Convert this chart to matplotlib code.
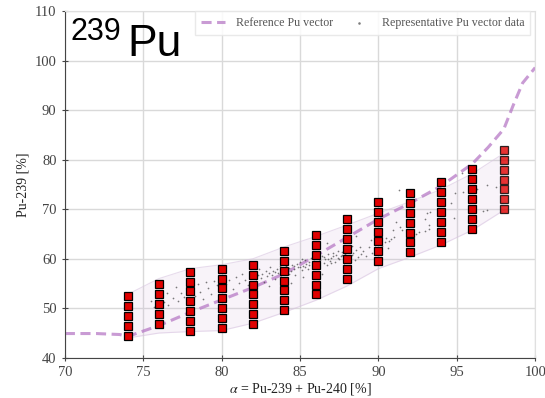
import matplotlib
matplotlib.use("Agg")
from matplotlib import pyplot as plt

plt.rcParams['font.family'] = 'Liberation Serif'
plt.rcParams['mathtext.fontset'] = 'stix'

# Reference Pu vector (dashed curve)
ref_x = [70, 72, 73.5, 74, 76, 78, 80, 82, 84, 86, 88, 90, 92, 94, 96, 97, 98, 98.6, 99.2, 100]
ref_y = [44.9, 44.9, 44.7, 44.3, 46.5, 49.2, 51.7, 54.2, 57.0, 60.6, 64.3, 68.0, 71.2, 74.7,
         79.2, 82.5, 86.2, 91.0, 95.5, 98.6]

# Shaded band around the data
band_x = [74, 76, 78, 80, 82, 84, 86, 88, 90, 92, 94, 96, 98]
band_lo = [44.0, 45.0, 45.3, 45.5, 47.0, 49.2, 51.6, 54.5, 58.0, 60.3, 62.8, 65.8, 69.8]
band_hi = [52.8, 56.0, 58.0, 58.8, 60.0, 62.4, 64.5, 66.8, 69.2, 71.5, 74.0, 77.2, 81.3]

# Selected Pu vectors (red squares), one list per alpha column
grid_alpha = [74, 76, 78, 80, 82, 84, 86, 88, 90, 92, 94, 96, 98]
grid_pu239 = [
    [44.4, 46.4, 48.4, 50.4, 52.4],
    [46.9, 48.9, 50.9, 52.9, 54.9],
    [45.4, 47.4, 49.4, 51.4, 53.4, 55.4, 57.4],
    [46.0, 48.0, 50.0, 52.0, 54.0, 56.0, 58.0],
    [46.8, 48.8, 50.8, 52.8, 54.8, 56.8, 58.8],
    [49.6, 51.6, 53.6, 55.6, 57.6, 59.6, 61.6],
    [52.8, 54.8, 56.8, 58.8, 60.8, 62.8, 64.8],
    [56.0, 58.0, 60.0, 62.0, 64.0, 66.0, 68.0],
    [59.5, 61.5, 63.5, 65.5, 67.5, 69.5, 71.5],
    [61.3, 63.3, 65.3, 67.3, 69.3, 71.3, 73.3],
    [63.4, 65.4, 67.4, 69.4, 71.4, 73.4, 75.4],
    [66.1, 68.1, 70.1, 72.1, 74.1, 76.1, 78.1],
    [70.0, 72.0, 74.0, 76.0, 78.0, 80.0, 82.0],
]

# Representative Pu vector data (grey dots)
data_x = [75.5, 75.7, 76.0, 76.3, 76.5, 76.6, 76.9, 77.1, 77.2, 77.4, 77.6, 77.8, 77.9, 78.1,
          78.3, 78.5, 78.6, 78.8, 79.0, 79.1, 79.3, 79.5, 79.7, 79.9, 80.1, 80.3, 80.5, 80.7,
          80.9, 81.1, 81.3, 81.5, 81.7, 81.9, 82.1, 82.2,
          82.0, 82.1, 82.2, 82.3, 82.4, 82.5, 82.6, 82.7, 82.8, 82.9, 83.0, 83.1, 83.2, 83.3,
          83.4, 83.5, 83.6, 83.7, 83.8, 83.9, 84.0, 84.1, 84.2, 84.3, 84.4, 84.5, 84.6, 84.7,
          84.8, 84.9, 85.0, 85.1, 85.2, 85.3, 85.4, 85.5, 85.6, 85.7, 85.8, 85.9, 86.0, 86.1,
          86.2, 86.3, 86.4, 86.5, 86.6, 86.7, 86.8, 86.9, 87.0, 87.1, 87.2, 87.3, 87.4, 87.5,
          87.6, 87.7, 87.8, 87.9, 88.0, 88.1, 88.2, 88.3, 88.4, 88.5, 88.6, 88.7, 88.8, 88.9,
          89.0, 89.2, 89.4, 89.6, 89.8, 90.0, 90.2, 90.4, 90.6, 90.8,
          83.4, 83.8, 84.1, 84.6, 85.0, 85.3, 85.6, 85.9, 86.2, 86.5, 86.8, 87.1, 87.4, 87.7,
          88.0, 85.1, 84.3, 86.0, 87.0, 88.3,
          83.0, 84.4, 85.2, 86.4, 80.2, 86.7, 88.6, 89.5, 89.9,
          90.5, 90.7, 90.9, 91.0, 91.1, 91.3, 91.5, 91.4, 92.4, 92.6, 93.0, 93.1, 93.2, 93.3,
          93.0, 93.2, 94.6, 94.8, 94.9, 95.3, 95.4, 95.8, 96.3, 96.7, 96.9, 96.9, 97.5, 92.0,
          91.8]
data_y = [51.5, 50.3, 52.4, 51.2, 53.1, 50.6, 52.0, 54.2, 51.4, 53.0, 52.2, 54.6, 50.8, 53.6,
          52.4, 54.9, 53.2, 51.9, 55.3, 54.1, 52.8, 55.6, 54.6, 53.5, 56.1, 54.9, 55.7, 53.9,
          56.4, 55.2, 56.9, 55.8, 54.6, 57.2, 56.3, 55.4,
          56.2, 57.3, 55.6, 56.8, 57.9, 56.1, 57.0, 55.3, 57.6, 56.5, 57.2, 58.3, 56.7, 57.6,
          55.9, 58.0, 57.1, 58.5, 56.4, 57.8, 58.2, 57.3, 59.0, 58.1, 57.5, 58.7, 57.9, 56.8,
          58.9, 58.3, 59.4, 57.7, 58.6, 59.7, 58.9, 58.0, 59.3, 60.1, 58.5, 59.6, 59.0, 60.3,
          58.2, 59.8, 60.6, 59.2, 60.0, 58.7, 60.9, 59.5, 60.2, 61.1, 59.4, 60.7, 61.6, 59.9,
          60.5, 61.3, 59.1, 60.9, 61.5, 60.2, 62.0, 60.8, 61.2, 59.8, 61.7, 60.4, 62.3, 61.0,
          61.6, 60.5, 62.4, 61.2, 62.8, 61.8, 62.6, 63.3, 62.1, 64.0,
          57.4, 57.9, 58.6, 58.5, 58.4, 58.3, 58.8, 59.1, 59.6, 60.4, 59.9, 60.5, 60.1, 60.8,
          60.6, 59.9, 57.0, 61.2, 59.1, 62.6,
          54.4, 55.1, 56.3, 56.9, 52.5, 63.2, 64.6, 63.8, 59.8,
          64.2, 63.6, 65.8, 64.3, 67.5, 73.9, 65.9, 66.4, 65.1, 65.5, 68.0, 69.2, 66.1, 69.5,
          65.6, 66.8, 71.2, 68.2, 73.2, 77.3, 73.5, 73.9, 74.1, 69.6, 74.9, 69.9, 74.5, 63.8,
          64.7]

fig = plt.figure(figsize=(5.45, 3.98), dpi=100)
ax = fig.add_axes([0.119, 0.101, 0.863, 0.871])

ax.fill_between(band_x, band_lo, band_hi, color='#c9a6d6', alpha=0.13, lw=0, zorder=1)
ax.plot(band_x, band_lo, color='#d8c4e0', lw=0.8, alpha=0.6, zorder=1)
ax.plot(band_x, band_hi, color='#d8c4e0', lw=0.8, alpha=0.6, zorder=1)

ref_line, = ax.plot(ref_x, ref_y, color='#b77ac6', alpha=0.75, lw=2.2, dashes=(3.3, 1.8),
                    label='Reference Pu vector', zorder=2)
pts = ax.scatter(data_x, data_y, s=1.5, color='#444444', alpha=0.7, lw=0,
                 label='Representative Pu vector data', zorder=3)

for a, ys in zip(grid_alpha, grid_pu239):
    ax.plot([a] * len(ys), ys, 's', ms=5.6, mfc='#e00000', mec='black', mew=0.9,
            alpha=0.8 if a == 98 else 1.0, zorder=4)

ax.set_xlim(70, 100)
ax.set_ylim(40, 110)
ax.set_xticks([70, 75, 80, 85, 90, 95, 100])
ax.set_yticks([40, 50, 60, 70, 80, 90, 100, 110])
ax.grid(True, color='#d9d9d9', lw=1.0, zorder=0)
ax.set_axisbelow(True)

for side in ['top', 'right']:
    ax.spines[side].set_color('#e0e0e0')
for side in ['left', 'bottom']:
    ax.spines[side].set_color('#444444')
ax.tick_params(direction='inout', length=5, width=0.8, color='#444444',
               labelsize=10.5, labelcolor='#444444')

ax.set_xlabel(r'$\alpha$ = Pu-239 + Pu-240 [%]', fontsize=10, color='#222222', labelpad=1)
ax.set_ylabel('Pu-239 [%]', fontsize=10, color='#222222', labelpad=4)

leg = ax.legend(handles=[ref_line, pts], ncol=2, loc='upper right', fontsize=8.6,
                frameon=True, fancybox=False, markerscale=1.5, borderaxespad=0.0,
                borderpad=0.5, handlelength=2.0, handletextpad=0.9, columnspacing=1.2,
                bbox_to_anchor=(0.99, 1.0))
leg.get_frame().set_edgecolor('#e6e6e6')
leg.get_frame().set_facecolor('white')
leg.get_frame().set_alpha(0.85)
for t in leg.get_texts():
    t.set_color('#555555')

fig.text(70 / 545, 1 - 40 / 398, '239', fontsize=22, family='Liberation Sans',
         va='baseline', ha='left', color='black')
fig.text(127 / 545, 1 - 56 / 398, 'Pu', fontsize=32, family='Liberation Sans',
         va='baseline', ha='left', color='black')

fig.savefig('out.png', dpi=100)
